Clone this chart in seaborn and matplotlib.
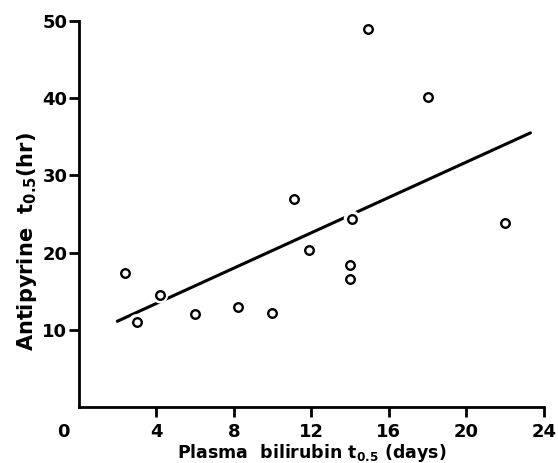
import numpy as np
import pandas as pd
import matplotlib
matplotlib.use('Agg')
import matplotlib.pyplot as plt
import seaborn as sns

# values
bilirubin_days = [2.4, 3.0, 4.2, 6.0, 8.2, 10.0, 11.1, 11.9, 14.1, 14.0, 14.0, 14.9, 18.0, 22.0]
antipyrine_hr = [17.4, 11.0, 14.5, 12.1, 13.0, 12.2, 26.9, 20.4, 24.4, 18.4, 16.6, 48.9, 40.1, 23.8]
fit_range = [2.0, 23.3]
x_ticks = [4, 8, 12, 16, 20, 24]
y_ticks = [10, 20, 30, 40, 50]

df = pd.DataFrame({'bili': bilirubin_days, 'anti': antipyrine_hr})

# least-squares line through the points
slope, intercept = np.polyfit(df['bili'], df['anti'], 1)
fit = pd.DataFrame({'x': fit_range})
fit['y'] = intercept + slope * fit['x']

sns.set_theme(style='ticks')
plt.rcParams['font.family'] = ['DejaVu Sans']
plt.rcParams['mathtext.fontset'] = 'dejavusans'
plt.rcParams['mathtext.default'] = 'bf'
for key in ['text.color', 'axes.labelcolor', 'xtick.color', 'ytick.color', 'axes.edgecolor']:
    plt.rcParams[key] = 'black'

fig = plt.figure(figsize=(5.58, 4.63), dpi=100)
ax = fig.add_axes([0.1407, 0.1203, 0.8343, 0.835])

sns.lineplot(data=fit, x='x', y='y', ax=ax, color='black', linewidth=2.2, zorder=2)
# white halo so the line breaks around the circles
sns.scatterplot(data=df, x='bili', y='anti', ax=ax, s=140, color='white',
                edgecolor='none', linewidth=0, zorder=3)
sns.scatterplot(data=df, x='bili', y='anti', ax=ax, s=38, facecolor='white',
                edgecolor='black', linewidth=1.7, zorder=4)

ax.set_xlim(0, 24)
ax.set_ylim(0, 50)
ax.set_xticks(x_ticks)
ax.set_yticks(y_ticks)
ax.set_xticklabels([str(t) for t in x_ticks], fontsize=13, fontweight='bold')
ax.set_yticklabels([str(t) for t in y_ticks], fontsize=13, fontweight='bold')
ax.tick_params(axis='x', length=7, width=2, pad=4)
ax.tick_params(axis='y', length=7, width=2, pad=1)
for side in ['left', 'bottom']:
    ax.spines[side].set_linewidth(2)
sns.despine(ax=ax)

# shared origin label
ax.annotate('0', xy=(0, 0), xycoords='data', xytext=(-11, -11),
            textcoords='offset points', ha='center', va='top',
            fontsize=13, fontweight='bold')

ax.set_xlabel(r'Plasma  bilirubin t$_{0.5}$ (days)', fontsize=12.5, fontweight='bold')
ax.set_ylabel(r'Antipyrine  t$_{0.5}$(hr)', fontsize=15, fontweight='bold')
ax.xaxis.set_label_coords(0.5, -0.09)
ax.yaxis.set_label_coords(-0.085, 0.428)

fig.savefig('out.png', dpi=100)
